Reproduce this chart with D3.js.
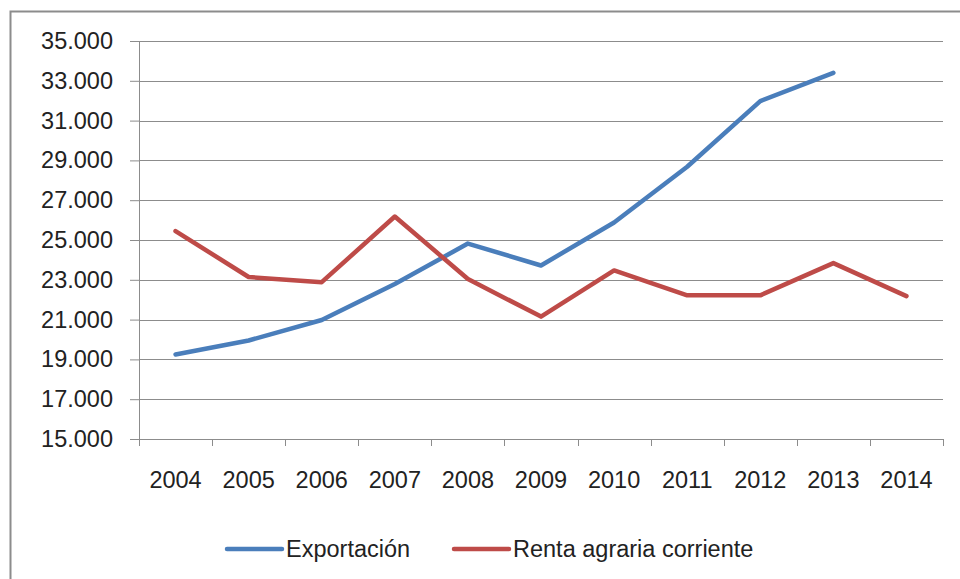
<!DOCTYPE html>
<html>
<head>
<meta charset="utf-8">
<script src="https://d3js.org/d3.v7.min.js"></script>
<style>
  body { margin: 0; background: #fff; }
  text { font-family: "Liberation Sans", Arial, sans-serif; fill: #222; }
</style>
</head>
<body>
<div id="chart"></div>
<script>
// data
var years = ["2004", "2005", "2006", "2007", "2008", "2009", "2010", "2011", "2012", "2013", "2014"];
var exportacion = [19250, 19950, 20980, 22790, 24820, 23720, 25880, 28680, 31980, 33400, null];
var renta = [25450, 23140, 22880, 26180, 23040, 21150, 23470, 22220, 22220, 23840, 22180];
var yTicks = [15000, 17000, 19000, 21000, 23000, 25000, 27000, 29000, 31000, 33000, 35000];
var seriesNames = ["Exportación", "Renta agraria corriente"];
var seriesColors = ["#4a7ebb", "#be4b48"];

const W = 960, H = 579;
var margin = {top: 41, right: 17, bottom: 140, left: 139},
    width = W - margin.left - margin.right,
    height = H - margin.top - margin.bottom;
var fontSize = 23.5;

var root = d3.select("#chart").append("svg")
    .attr("width", W)
    .attr("height", H);

// outer frame
root.append("rect")
    .attr("x", 10.5).attr("y", 11.5)
    .attr("width", W).attr("height", H)
    .attr("fill", "none")
    .attr("stroke", "#8c8c8c")
    .attr("stroke-width", 2);

var svg = root.append("g")
    .attr("transform", "translate(" + margin.left + "," + margin.top + ")");

var x = d3.scaleBand().domain(years).range([0, width]);
var y = d3.scaleLinear().domain([15000, 35000]).range([height, 0]);

var fmt = function(d) { return d3.format(",")(d).replace(",", "."); };

// gridlines
svg.append("g")
  .selectAll("line")
  .data(yTicks)
  .enter().append("line")
    .attr("x1", 0).attr("x2", width)
    .attr("y1", function(d) { return Math.round(y(d)) + 0.5; })
    .attr("y2", function(d) { return Math.round(y(d)) + 0.5; })
    .attr("stroke", "#8c8c8c")
    .attr("stroke-width", 1);

// y axis
var yAxis = svg.append("g")
    .call(d3.axisLeft(y).tickValues(yTicks).tickFormat(fmt).tickSize(9).tickPadding(17));
yAxis.select(".domain").attr("stroke", "#8c8c8c");
yAxis.selectAll(".tick line").attr("stroke", "#8c8c8c");
yAxis.selectAll("text").attr("font-size", fontSize).attr("fill", "#222")
    .attr("font-family", "Liberation Sans, Arial, sans-serif");

// x axis, ticks on category boundaries
var xAxis = svg.append("g")
    .attr("transform", "translate(0," + height + ")")
    .call(d3.axisBottom(x).tickSize(0).tickPadding(32));
xAxis.select(".domain").attr("stroke", "#8c8c8c");
xAxis.selectAll("text").attr("font-size", fontSize).attr("fill", "#222")
    .attr("font-family", "Liberation Sans, Arial, sans-serif");
xAxis.selectAll(".bound")
  .data(years.concat(["end"]))
  .enter().append("line")
    .attr("class", "bound")
    .attr("x1", function(d, i) { return Math.round(i * x.step()) + 0.5; })
    .attr("x2", function(d, i) { return Math.round(i * x.step()) + 0.5; })
    .attr("y1", 0).attr("y2", 7)
    .attr("stroke", "#8c8c8c");

// lines
var line = d3.line()
    .defined(function(d) { return d.v != null; })
    .x(function(d) { return x(d.year) + x.bandwidth() / 2; })
    .y(function(d) { return y(d.v); });

[exportacion, renta].forEach(function(vals, k) {
  var pts = years.map(function(yr, i) { return {year: yr, v: vals[i]}; });
  svg.append("path")
    .datum(pts)
    .attr("d", line)
    .attr("fill", "none")
    .attr("stroke", seriesColors[k])
    .attr("stroke-width", 4.5)
    .attr("stroke-linejoin", "round")
    .attr("stroke-linecap", "round");
});

// legend
var legendX = [227, 454];
var leg = root.append("g").attr("transform", "translate(0,549)");
seriesNames.forEach(function(name, k) {
  leg.append("line")
    .attr("x1", legendX[k]).attr("x2", legendX[k] + 55)
    .attr("y1", 0).attr("y2", 0)
    .attr("stroke", seriesColors[k])
    .attr("stroke-width", 4.5)
    .attr("stroke-linecap", "round");
  leg.append("text")
    .attr("x", legendX[k] + 59)
    .attr("y", 8)
    .attr("font-size", fontSize)
    .text(name);
});
</script>
</body>
</html>
